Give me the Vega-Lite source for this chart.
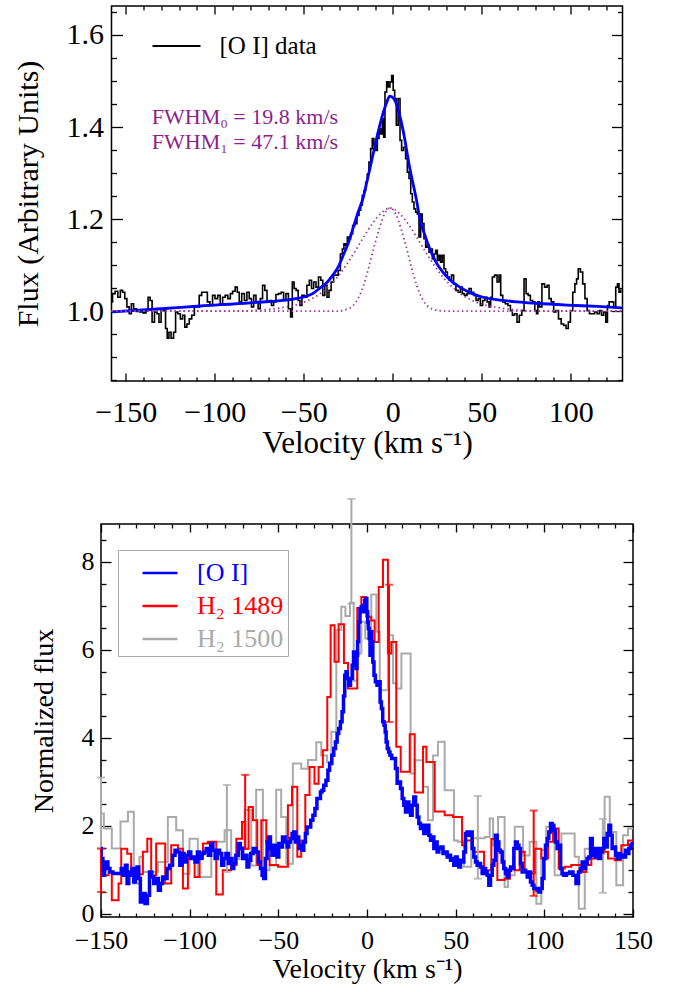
{
"$schema":"https://vega.github.io/schema/vega-lite/v6.json",
"background":"white",
"padding":{"left":12,"top":4,"right":10,"bottom":4},
"config":{"font":"Liberation Serif","view":{"stroke":"black","strokeWidth":1.5},
"axis":{"grid":false,"domain":false,"tickColor":"black","tickWidth":1.3,"labelColor":"black","titleColor":"black","labelFont":"Liberation Serif","titleFont":"Liberation Serif","titleFontWeight":"normal","labelFlush":false,"labelOverlap":false,"labelBound":false},
"legend":{"labelFont":"Liberation Serif"},
"text":{"font":"Liberation Serif"}},
"datasets":{
"oi":[{"v":-158.1,"f":1.020},{"v":-156.7,"f":1.038},{"v":-155.2,"f":1.043},{"v":-153.7,"f":1.030},{"v":-152.4,"f":1.045},{"v":-151.1,"f":1.041},{"v":-150.0,"f":1.027},{"v":-148.7,"f":1.009},{"v":-147.4,"f":0.994},{"v":-146.3,"f":1.016},{"v":-144.9,"f":1.005},{"v":-143.1,"f":0.999},{"v":-141.2,"f":0.998},{"v":-139.3,"f":0.996},{"v":-138.0,"f":1.001},{"v":-136.9,"f":1.030},{"v":-135.8,"f":1.023},{"v":-134.6,"f":0.976},{"v":-133.1,"f":0.998},{"v":-131.8,"f":0.994},{"v":-130.9,"f":0.976},{"v":-129.4,"f":1.005},{"v":-128.1,"f":1.001},{"v":-127.2,"f":0.962},{"v":-126.2,"f":0.941},{"v":-125.3,"f":0.954},{"v":-123.8,"f":0.941},{"v":-122.5,"f":0.954},{"v":-121.5,"f":0.998},{"v":-120.0,"f":0.994},{"v":-118.7,"f":0.983},{"v":-117.4,"f":0.991},{"v":-116.3,"f":0.965},{"v":-115.0,"f":0.972},{"v":-113.7,"f":0.983},{"v":-112.2,"f":0.991},{"v":-110.7,"f":1.009},{"v":-109.4,"f":1.009},{"v":-108.1,"f":1.034},{"v":-106.6,"f":1.041},{"v":-104.7,"f":1.041},{"v":-103.6,"f":1.020},{"v":-101.9,"f":1.012},{"v":-100.6,"f":1.034},{"v":-99.1,"f":1.027},{"v":-97.6,"f":1.034},{"v":-96.3,"f":1.016},{"v":-94.9,"f":1.030},{"v":-93.4,"f":1.034},{"v":-91.9,"f":1.027},{"v":-90.6,"f":1.038},{"v":-89.3,"f":1.043},{"v":-87.8,"f":1.052},{"v":-86.9,"f":1.041},{"v":-85.6,"f":1.020},{"v":-84.1,"f":1.038},{"v":-82.6,"f":1.023},{"v":-81.3,"f":1.041},{"v":-80.0,"f":1.027},{"v":-78.8,"f":1.009},{"v":-77.5,"f":1.034},{"v":-76.2,"f":1.020},{"v":-75.1,"f":1.005},{"v":-73.8,"f":1.027},{"v":-72.5,"f":1.056},{"v":-71.3,"f":1.045},{"v":-70.0,"f":1.020},{"v":-68.7,"f":1.023},{"v":-67.6,"f":1.012},{"v":-66.3,"f":1.020},{"v":-65.0,"f":1.036},{"v":-63.5,"f":1.038},{"v":-62.0,"f":1.041},{"v":-60.7,"f":1.023},{"v":-59.4,"f":1.038},{"v":-57.9,"f":1.005},{"v":-56.9,"f":0.987},{"v":-56.0,"f":1.063},{"v":-54.9,"f":1.049},{"v":-53.7,"f":1.045},{"v":-52.6,"f":1.023},{"v":-51.7,"f":1.012},{"v":-50.4,"f":1.034},{"v":-48.9,"f":1.030},{"v":-47.6,"f":1.056},{"v":-46.2,"f":1.067},{"v":-45.1,"f":1.049},{"v":-43.8,"f":1.063},{"v":-42.5,"f":1.052},{"v":-41.0,"f":1.074},{"v":-39.9,"f":1.067},{"v":-38.8,"f":1.034},{"v":-37.6,"f":1.056},{"v":-36.3,"f":1.030},{"v":-35.4,"f":1.045},{"v":-33.9,"f":1.063},{"v":-32.6,"f":1.078},{"v":-31.3,"f":1.078},{"v":-30.1,"f":1.088},{"v":-28.8,"f":1.124},{"v":-27.9,"f":1.135},{"v":-27.0,"f":1.146},{"v":-26.0,"f":1.143},{"v":-25.1,"f":1.161},{"v":-24.2,"f":1.157},{"v":-23.2,"f":1.168},{"v":-21.9,"f":1.186},{"v":-20.8,"f":1.190},{"v":-19.5,"f":1.208},{"v":-18.5,"f":1.219},{"v":-17.6,"f":1.230},{"v":-16.7,"f":1.251},{"v":-15.7,"f":1.262},{"v":-14.8,"f":1.280},{"v":-13.9,"f":1.298},{"v":-12.9,"f":1.324},{"v":-12.0,"f":1.353},{"v":-11.1,"f":1.375},{"v":-10.1,"f":1.360},{"v":-9.2,"f":1.349},{"v":-8.2,"f":1.375},{"v":-7.3,"f":1.396},{"v":-6.4,"f":1.385},{"v":-5.4,"f":1.418},{"v":-4.9,"f":1.378},{"v":-3.9,"f":1.476},{"v":-3.0,"f":1.498},{"v":-2.1,"f":1.487},{"v":-1.1,"f":1.498},{"v":-0.2,"f":1.512},{"v":0.6,"f":1.480},{"v":1.5,"f":1.462},{"v":2.4,"f":1.404},{"v":3.6,"f":1.462},{"v":4.5,"f":1.371},{"v":5.4,"f":1.349},{"v":6.7,"f":1.356},{"v":7.7,"f":1.331},{"v":8.6,"f":1.302},{"v":9.6,"f":1.288},{"v":10.5,"f":1.255},{"v":11.4,"f":1.237},{"v":12.4,"f":1.222},{"v":13.3,"f":1.215},{"v":14.2,"f":1.211},{"v":15.2,"f":1.161},{"v":16.1,"f":1.211},{"v":17.0,"f":1.190},{"v":18.0,"f":1.157},{"v":18.9,"f":1.139},{"v":19.9,"f":1.143},{"v":20.8,"f":1.128},{"v":21.7,"f":1.135},{"v":22.7,"f":1.114},{"v":23.6,"f":1.124},{"v":24.5,"f":1.132},{"v":25.5,"f":1.110},{"v":26.4,"f":1.121},{"v":27.3,"f":1.106},{"v":28.3,"f":1.121},{"v":29.2,"f":1.092},{"v":30.2,"f":1.085},{"v":31.1,"f":1.074},{"v":32.4,"f":1.067},{"v":33.5,"f":1.078},{"v":34.8,"f":1.059},{"v":36.1,"f":1.045},{"v":37.3,"f":1.041},{"v":38.6,"f":1.052},{"v":39.5,"f":1.038},{"v":41.0,"f":1.034},{"v":42.3,"f":1.038},{"v":43.3,"f":1.049},{"v":44.8,"f":1.041},{"v":46.1,"f":1.034},{"v":47.4,"f":1.023},{"v":48.5,"f":1.027},{"v":49.8,"f":1.012},{"v":51.1,"f":1.023},{"v":52.3,"f":1.030},{"v":53.6,"f":1.020},{"v":54.5,"f":1.009},{"v":55.4,"f":1.030},{"v":56.4,"f":1.074},{"v":57.9,"f":1.078},{"v":59.2,"f":1.063},{"v":60.1,"f":1.078},{"v":61.1,"f":1.034},{"v":62.4,"f":1.020},{"v":63.9,"f":1.016},{"v":65.4,"f":1.012},{"v":66.7,"f":1.001},{"v":67.6,"f":0.991},{"v":69.1,"f":0.994},{"v":70.4,"f":0.976},{"v":71.7,"f":0.991},{"v":73.2,"f":1.001},{"v":74.2,"f":1.070},{"v":75.5,"f":1.038},{"v":76.6,"f":1.034},{"v":77.9,"f":1.023},{"v":79.2,"f":1.020},{"v":80.3,"f":1.001},{"v":81.1,"f":0.994},{"v":81.8,"f":1.020},{"v":83.0,"f":1.009},{"v":84.5,"f":1.059},{"v":86.0,"f":1.052},{"v":87.3,"f":1.056},{"v":88.2,"f":1.027},{"v":89.7,"f":1.020},{"v":91.0,"f":0.998},{"v":92.3,"f":1.001},{"v":93.8,"f":0.983},{"v":95.3,"f":0.972},{"v":96.6,"f":0.969},{"v":98.0,"f":0.962},{"v":99.1,"f":0.976},{"v":100.4,"f":1.001},{"v":101.7,"f":1.041},{"v":102.8,"f":1.059},{"v":103.6,"f":1.070},{"v":104.7,"f":1.092},{"v":106.0,"f":1.085},{"v":107.3,"f":1.059},{"v":108.5,"f":1.027},{"v":109.8,"f":1.001},{"v":111.1,"f":0.994},{"v":112.6,"f":0.994},{"v":114.1,"f":0.998},{"v":115.4,"f":0.994},{"v":116.7,"f":1.001},{"v":117.8,"f":0.991},{"v":119.1,"f":0.998},{"v":120.1,"f":0.976},{"v":121.0,"f":1.012},{"v":122.0,"f":1.020},{"v":123.4,"f":1.020},{"v":124.7,"f":1.009},{"v":125.7,"f":1.052},{"v":126.6,"f":1.059},{"v":127.5,"f":1.041},{"v":128.5,"f":1.045}],
"fit":[{"v":-158,"f":0.998},{"v":-130,"f":1.005},{"v":-108,"f":1.011},{"v":-80,"f":1.018},{"v":-56,"f":1.026},{"v":-50.6,"f":1.030},{"v":-45,"f":1.038},{"v":-41,"f":1.05},{"v":-37,"f":1.062},{"v":-33.7,"f":1.078},{"v":-30.5,"f":1.097},{"v":-28,"f":1.12},{"v":-25,"f":1.148},{"v":-22.5,"f":1.178},{"v":-19.5,"f":1.215},{"v":-16.9,"f":1.243},{"v":-14.6,"f":1.28},{"v":-11.2,"f":1.339},{"v":-7.3,"f":1.404},{"v":-3.4,"f":1.454},{"v":-1.7,"f":1.467},{"v":0.5,"f":1.462},{"v":2.2,"f":1.448},{"v":5.6,"f":1.396},{"v":9.6,"f":1.309},{"v":13.5,"f":1.237},{"v":15.2,"f":1.20},{"v":18,"f":1.165},{"v":20.8,"f":1.135},{"v":24,"f":1.108},{"v":28,"f":1.085},{"v":32,"f":1.068},{"v":37.6,"f":1.052},{"v":44,"f":1.039},{"v":50.6,"f":1.030},{"v":60,"f":1.024},{"v":69.7,"f":1.02},{"v":80,"f":1.017},{"v":97.8,"f":1.013},{"v":115,"f":1.010},{"v":128.7,"f":1.007}],
"narrow":[{"v":-158,"f":1.0},{"v":-31.5,"f":1.0},{"v":-26.5,"f":1.003},{"v":-22.5,"f":1.011},{"v":-19.5,"f":1.027},{"v":-16.5,"f":1.055},{"v":-13.5,"f":1.095},{"v":-10.5,"f":1.14},{"v":-7.5,"f":1.18},{"v":-4.5,"f":1.212},{"v":-1.5,"f":1.224},{"v":1.5,"f":1.212},{"v":4.5,"f":1.18},{"v":7.5,"f":1.14},{"v":10.5,"f":1.095},{"v":13.5,"f":1.055},{"v":16.5,"f":1.027},{"v":19.5,"f":1.011},{"v":23.5,"f":1.003},{"v":28.5,"f":1.0},{"v":129,"f":1.0}],
"broad":[{"v":-158,"f":1.0},{"v":-86.5,"f":1.0},{"v":-71.5,"f":1.003},{"v":-61.5,"f":1.008},{"v":-51.5,"f":1.017},{"v":-46.5,"f":1.025},{"v":-41.5,"f":1.036},{"v":-36.5,"f":1.052},{"v":-31.5,"f":1.072},{"v":-26.5,"f":1.098},{"v":-21.5,"f":1.128},{"v":-16.5,"f":1.16},{"v":-11.5,"f":1.19},{"v":-6.5,"f":1.213},{"v":-1.5,"f":1.224},{"v":3.5,"f":1.213},{"v":8.5,"f":1.19},{"v":13.5,"f":1.16},{"v":18.5,"f":1.128},{"v":23.5,"f":1.098},{"v":28.5,"f":1.072},{"v":33.5,"f":1.052},{"v":38.5,"f":1.036},{"v":43.5,"f":1.025},{"v":48.5,"f":1.017},{"v":58.5,"f":1.008},{"v":68.5,"f":1.003},{"v":83.5,"f":1.0},{"v":129,"f":1.0}],
"notes":[{"v":-135.4,"f":1.422,"t":"FWHM₀ = 19.8 km/s"},{"v":-135.4,"f":1.367,"t":"FWHM₁ = 47.1 km/s"}],
"blue":[{"v":-150.3,"n":1.485},{"v":-149.5,"n":1.257},{"v":-148.4,"n":0.879},{"v":-147.6,"n":1.03},{"v":-146.5,"n":1.182},{"v":-145.7,"n":1.03},{"v":-144.2,"n":0.954},{"v":-142.4,"n":0.916},{"v":-139.5,"n":0.916},{"v":-137.7,"n":1.03},{"v":-136.7,"n":0.879},{"v":-135.8,"n":1.106},{"v":-134.8,"n":0.689},{"v":-133.9,"n":0.954},{"v":-133.0,"n":0.879},{"v":-132.0,"n":1.03},{"v":-131.1,"n":0.727},{"v":-130.1,"n":1.03},{"v":-129.2,"n":1.068},{"v":-128.3,"n":0.803},{"v":-127.3,"n":0.272},{"v":-125.8,"n":0.462},{"v":-124.5,"n":0.235},{"v":-123.2,"n":0.424},{"v":-122.1,"n":0.954},{"v":-120.7,"n":0.841},{"v":-119.8,"n":0.689},{"v":-118.3,"n":0.803},{"v":-117.0,"n":0.538},{"v":-116.0,"n":0.689},{"v":-114.5,"n":0.841},{"v":-113.2,"n":0.803},{"v":-112.3,"n":1.03},{"v":-110.4,"n":1.106},{"v":-108.9,"n":1.333},{"v":-107.6,"n":1.447},{"v":-106.3,"n":1.409},{"v":-104.8,"n":1.106},{"v":-103.8,"n":1.371},{"v":-102.5,"n":1.182},{"v":-101.0,"n":1.333},{"v":-100.1,"n":1.409},{"v":-98.7,"n":1.257},{"v":-97.6,"n":1.295},{"v":-96.3,"n":1.182},{"v":-95.0,"n":1.409},{"v":-93.9,"n":1.257},{"v":-92.5,"n":1.371},{"v":-91.2,"n":1.409},{"v":-90.1,"n":1.485},{"v":-88.8,"n":1.333},{"v":-87.5,"n":1.598},{"v":-86.3,"n":1.447},{"v":-85.0,"n":1.257},{"v":-83.7,"n":1.447},{"v":-82.6,"n":1.371},{"v":-81.3,"n":1.106},{"v":-80.3,"n":1.257},{"v":-78.8,"n":1.371},{"v":-77.5,"n":1.144},{"v":-76.6,"n":1.257},{"v":-75.6,"n":1.03},{"v":-74.7,"n":1.144},{"v":-73.2,"n":1.333},{"v":-71.9,"n":1.598},{"v":-70.9,"n":1.485},{"v":-69.4,"n":1.257},{"v":-68.1,"n":1.333},{"v":-67.2,"n":1.068},{"v":-66.2,"n":1.22},{"v":-64.9,"n":1.371},{"v":-63.4,"n":1.485},{"v":-61.9,"n":1.409},{"v":-60.6,"n":1.182},{"v":-59.6,"n":1.03},{"v":-58.7,"n":0.879},{"v":-57.8,"n":0.803},{"v":-56.8,"n":1.257},{"v":-55.9,"n":1.636},{"v":-54.9,"n":1.75},{"v":-54.0,"n":1.485},{"v":-53.1,"n":1.333},{"v":-52.1,"n":1.56},{"v":-51.2,"n":1.485},{"v":-50.2,"n":1.295},{"v":-49.3,"n":1.598},{"v":-48.4,"n":1.522},{"v":-46.9,"n":1.75},{"v":-45.5,"n":1.636},{"v":-44.6,"n":1.522},{"v":-43.7,"n":1.636},{"v":-42.7,"n":1.712},{"v":-41.8,"n":1.826},{"v":-40.8,"n":1.863},{"v":-39.9,"n":1.636},{"v":-39.0,"n":1.75},{"v":-38.0,"n":1.485},{"v":-37.1,"n":1.56},{"v":-36.1,"n":1.447},{"v":-35.2,"n":1.636},{"v":-34.3,"n":1.826},{"v":-33.3,"n":1.977},{"v":-32.4,"n":1.977},{"v":-31.1,"n":2.128},{"v":-29.9,"n":2.242},{"v":-28.8,"n":2.394},{"v":-27.7,"n":2.621},{"v":-26.7,"n":2.621},{"v":-25.8,"n":2.773},{"v":-24.9,"n":2.81},{"v":-23.9,"n":2.924},{"v":-22.4,"n":3.038},{"v":-21.7,"n":3.265},{"v":-20.5,"n":3.416},{"v":-19.2,"n":3.606},{"v":-18.3,"n":3.757},{"v":-17.3,"n":3.909},{"v":-16.4,"n":4.098},{"v":-15.5,"n":4.212},{"v":-14.5,"n":4.364},{"v":-13.6,"n":4.591},{"v":-12.9,"n":4.95},{"v":-12.2,"n":5.424},{"v":-11.5,"n":5.5},{"v":-10.7,"n":5.348},{"v":-9.8,"n":5.197},{"v":-8.8,"n":5.348},{"v":-7.9,"n":5.651},{"v":-7.3,"n":5.954},{"v":-6.6,"n":5.803},{"v":-5.8,"n":5.576},{"v":-5.5,"n":5.879},{"v":-5.1,"n":6.182},{"v":-4.3,"n":6.636},{"v":-3.6,"n":6.939},{"v":-2.8,"n":6.977},{"v":-2.3,"n":6.864},{"v":-1.7,"n":7.015},{"v":-0.95,"n":7.129},{"v":-0.38,"n":7.167},{"v":0.18,"n":6.864},{"v":0.56,"n":6.636},{"v":0.94,"n":6.485},{"v":1.5,"n":6.258},{"v":1.9,"n":5.879},{"v":2.44,"n":6.409},{"v":3.0,"n":6.182},{"v":3.57,"n":5.727},{"v":4.3,"n":5.424},{"v":5.1,"n":5.273},{"v":6.2,"n":5.197},{"v":7.1,"n":5.273},{"v":7.7,"n":4.818},{"v":8.5,"n":4.667},{"v":9.2,"n":4.364},{"v":10.0,"n":4.288},{"v":10.5,"n":4.136},{"v":11.1,"n":3.909},{"v":11.8,"n":3.757},{"v":12.6,"n":3.682},{"v":13.3,"n":3.606},{"v":14.5,"n":3.53},{"v":15.6,"n":3.53},{"v":16.5,"n":3.303},{"v":17.5,"n":2.97},{"v":18.4,"n":3.0},{"v":19.4,"n":2.848},{"v":20.3,"n":2.621},{"v":21.2,"n":2.47},{"v":22.2,"n":2.318},{"v":23.1,"n":2.545},{"v":24.1,"n":2.356},{"v":25.0,"n":2.242},{"v":25.9,"n":2.47},{"v":26.9,"n":2.659},{"v":27.8,"n":2.47},{"v":28.8,"n":2.204},{"v":29.7,"n":2.053},{"v":30.6,"n":1.939},{"v":31.6,"n":2.015},{"v":32.5,"n":1.826},{"v":33.5,"n":1.901},{"v":34.4,"n":2.015},{"v":35.3,"n":1.788},{"v":36.3,"n":1.674},{"v":37.2,"n":1.75},{"v":38.2,"n":1.485},{"v":39.1,"n":1.636},{"v":40.0,"n":1.409},{"v":41.0,"n":1.485},{"v":42.3,"n":1.522},{"v":43.4,"n":1.371},{"v":44.7,"n":1.409},{"v":45.7,"n":1.295},{"v":46.6,"n":1.333},{"v":47.6,"n":1.22},{"v":48.5,"n":1.257},{"v":49.4,"n":1.106},{"v":50.4,"n":1.295},{"v":51.3,"n":1.182},{"v":52.3,"n":1.068},{"v":53.2,"n":1.22},{"v":54.1,"n":1.182},{"v":55.1,"n":1.409},{"v":56.0,"n":1.826},{"v":57.0,"n":1.863},{"v":57.9,"n":1.788},{"v":58.8,"n":1.863},{"v":59.8,"n":1.485},{"v":60.7,"n":1.295},{"v":61.7,"n":1.182},{"v":62.6,"n":1.106},{"v":63.5,"n":1.144},{"v":64.5,"n":1.068},{"v":65.4,"n":0.916},{"v":66.4,"n":1.03},{"v":67.3,"n":0.954},{"v":68.2,"n":0.879},{"v":69.2,"n":0.651},{"v":70.1,"n":0.879},{"v":71.1,"n":1.106},{"v":72.0,"n":1.22},{"v":72.9,"n":1.788},{"v":73.9,"n":1.636},{"v":74.8,"n":1.447},{"v":75.8,"n":1.409},{"v":76.7,"n":1.182},{"v":77.6,"n":1.03},{"v":78.6,"n":0.916},{"v":79.5,"n":0.841},{"v":80.5,"n":0.992},{"v":81.4,"n":1.068},{"v":82.3,"n":1.03},{"v":83.3,"n":1.485},{"v":84.2,"n":1.636},{"v":85.2,"n":1.56},{"v":86.1,"n":1.485},{"v":87.0,"n":1.144},{"v":88.0,"n":0.954},{"v":88.9,"n":0.992},{"v":89.9,"n":0.954},{"v":90.8,"n":0.841},{"v":91.7,"n":0.954},{"v":92.7,"n":0.727},{"v":93.6,"n":0.651},{"v":94.6,"n":0.576},{"v":95.5,"n":0.576},{"v":96.4,"n":0.538},{"v":97.4,"n":0.5},{"v":98.3,"n":0.576},{"v":99.3,"n":0.803},{"v":100.2,"n":1.257},{"v":101.1,"n":1.56},{"v":102.1,"n":1.712},{"v":103.0,"n":1.863},{"v":104.0,"n":2.053},{"v":104.9,"n":2.015},{"v":105.8,"n":1.901},{"v":106.8,"n":1.636},{"v":107.7,"n":1.485},{"v":108.7,"n":1.56},{"v":109.6,"n":1.03},{"v":110.5,"n":0.916},{"v":111.5,"n":0.879},{"v":113.4,"n":0.916},{"v":115.2,"n":0.954},{"v":117.1,"n":0.879},{"v":118.6,"n":0.689},{"v":119.9,"n":0.954},{"v":120.9,"n":1.03},{"v":121.8,"n":1.182},{"v":122.8,"n":1.03},{"v":123.7,"n":1.144},{"v":124.6,"n":1.257},{"v":125.6,"n":1.295},{"v":126.5,"n":1.712},{"v":127.5,"n":1.485},{"v":128.4,"n":1.333},{"v":129.3,"n":1.295},{"v":130.3,"n":1.485},{"v":131.2,"n":1.257},{"v":132.2,"n":1.409},{"v":133.1,"n":1.485},{"v":134.0,"n":1.712},{"v":135.0,"n":1.522},{"v":135.9,"n":1.826},{"v":136.9,"n":2.015},{"v":137.8,"n":1.788},{"v":138.7,"n":1.485},{"v":139.7,"n":1.522},{"v":140.6,"n":1.333},{"v":141.6,"n":1.257},{"v":142.5,"n":1.371},{"v":143.4,"n":1.295},{"v":144.4,"n":1.333},{"v":145.3,"n":1.295},{"v":146.3,"n":1.447},{"v":147.2,"n":1.371},{"v":148.1,"n":1.485},{"v":149.1,"n":1.56},{"v":150,"n":1.6}],
"red":[{"v":-150.3,"n":0.95},{"v":-148.4,"n":0.88},{"v":-145.7,"n":0.95},{"v":-143.9,"n":0.31},{"v":-140.1,"n":0.69},{"v":-138.6,"n":1.48},{"v":-135.2,"n":1.37},{"v":-133.0,"n":0.9},{"v":-126.4,"n":1.41},{"v":-123.9,"n":1.71},{"v":-121.7,"n":0.88},{"v":-118.9,"n":1.6},{"v":-113.8,"n":0.69},{"v":-110.4,"n":1.56},{"v":-106.6,"n":1.48},{"v":-103.8,"n":0.58},{"v":-101.0,"n":1.26},{"v":-97.2,"n":0.84},{"v":-94.4,"n":1.26},{"v":-92.5,"n":1.6},{"v":-89.7,"n":1.64},{"v":-85.0,"n":0.44},{"v":-81.3,"n":0.99},{"v":-76.6,"n":1.11},{"v":-73.7,"n":1.71},{"v":-70.5,"n":2.09},{"v":-68.7,"n":1.48},{"v":-66.8,"n":2.43},{"v":-64.3,"n":2.13},{"v":-61.9,"n":1.11},{"v":-59.6,"n":2.13},{"v":-56.8,"n":1.64},{"v":-54.9,"n":1.11},{"v":-50.2,"n":1.07},{"v":-44.6,"n":2.47},{"v":-42.3,"n":2.89},{"v":-39.3,"n":1.3},{"v":-37.1,"n":1.67},{"v":-34.8,"n":2.7},{"v":-32.4,"n":3.34},{"v":-29.6,"n":2.96},{"v":-27.3,"n":3.34},{"v":-24.9,"n":3.72},{"v":-22.4,"n":4.93},{"v":-20.5,"n":6.56},{"v":-18.3,"n":5.73},{"v":-16.0,"n":6.58},{"v":-13.0,"n":5.7},{"v":-10.7,"n":5.12},{"v":-5.5,"n":6.95},{"v":-3.2,"n":7.2},{"v":-0.4,"n":6.75},{"v":2.4,"n":6.67},{"v":4.3,"n":6.18},{"v":6.6,"n":7.43},{"v":9.0,"n":8.05},{"v":11.8,"n":5.92},{"v":13.7,"n":6.18},{"v":16.5,"n":3.8},{"v":19.0,"n":3.23},{"v":24.1,"n":4.08},{"v":26.9,"n":2.76},{"v":31.6,"n":3.8},{"v":33.5,"n":3.45},{"v":38.2,"n":2.33},{"v":43.8,"n":2.24},{"v":48.5,"n":2.2},{"v":53.6,"n":1.56},{"v":55.1,"n":1.67},{"v":59.8,"n":1.41},{"v":66.0,"n":0.99},{"v":70.1,"n":1.7},{"v":73.5,"n":0.77},{"v":77.6,"n":0.8},{"v":80.5,"n":1.03},{"v":83.3,"n":0.99},{"v":86.1,"n":1.41},{"v":88.9,"n":0.95},{"v":92.7,"n":0.92},{"v":94.6,"n":1.48},{"v":98.3,"n":1.26},{"v":102.1,"n":1.64},{"v":104.9,"n":1.94},{"v":108.1,"n":1.03},{"v":111.5,"n":1.07},{"v":115.2,"n":1.11},{"v":121.8,"n":0.95},{"v":123.7,"n":1.11},{"v":126.5,"n":1.26},{"v":132.2,"n":1.41},{"v":135.9,"n":1.26},{"v":139.7,"n":1.22},{"v":143.4,"n":1.56},{"v":147.2,"n":1.67},{"v":150,"n":1.67}],
"gray":[{"v":-150.3,"n":2.28},{"v":-148.4,"n":1.94},{"v":-143.9,"n":1.485},{"v":-139.0,"n":2.1},{"v":-134.8,"n":2.32},{"v":-131.5,"n":0.69},{"v":-128.3,"n":1.3},{"v":-126.4,"n":0.95},{"v":-117.9,"n":1.18},{"v":-112.3,"n":2.2},{"v":-107.6,"n":1.9},{"v":-103.8,"n":0.91},{"v":-100.1,"n":1.71},{"v":-95.4,"n":0.84},{"v":-87.8,"n":1.64},{"v":-80.3,"n":1.9},{"v":-76.6,"n":1.25},{"v":-71.9,"n":1.52},{"v":-69.0,"n":2.36},{"v":-65.3,"n":1.1},{"v":-62.5,"n":2.82},{"v":-58.7,"n":0.99},{"v":-54.9,"n":1.1},{"v":-51.2,"n":2.82},{"v":-48.4,"n":2.2},{"v":-45.5,"n":1.14},{"v":-41.8,"n":3.42},{"v":-37.1,"n":3.3},{"v":-33.3,"n":3.5},{"v":-28.6,"n":3.9},{"v":-25.8,"n":3.6},{"v":-22.5,"n":3.45},{"v":-20.1,"n":4.14},{"v":-17.3,"n":6.45},{"v":-14.5,"n":6.98},{"v":-12.2,"n":6.77},{"v":-9.6,"n":7.07},{"v":-7.5,"n":5.3},{"v":-5.5,"n":5.92},{"v":-3.2,"n":6.64},{"v":-1.0,"n":6.26},{"v":2.4,"n":7.26},{"v":5.3,"n":6.41},{"v":7.2,"n":5.08},{"v":11.8,"n":6.33},{"v":14.7,"n":5.24},{"v":16.5,"n":5.12},{"v":19.4,"n":5.92},{"v":24.6,"n":3.19},{"v":26.9,"n":3.49},{"v":31.6,"n":2.89},{"v":34.4,"n":2.13},{"v":37.2,"n":3.6},{"v":40.0,"n":3.91},{"v":43.8,"n":2.81},{"v":49.1,"n":1.67},{"v":51.3,"n":1.64},{"v":54.7,"n":1.07},{"v":58.8,"n":1.72},{"v":66.4,"n":1.75},{"v":69.2,"n":2.17},{"v":71.1,"n":1.56},{"v":73.9,"n":2.2},{"v":77.6,"n":0.61},{"v":79.5,"n":0.88},{"v":83.3,"n":1.98},{"v":88.0,"n":1.33},{"v":91.7,"n":1.64},{"v":95.5,"n":0.23},{"v":98.3,"n":1.45},{"v":101.1,"n":1.98},{"v":105.8,"n":0.88},{"v":109.6,"n":1.83},{"v":117.1,"n":1.3},{"v":119.4,"n":0.12},{"v":122.8,"n":1.48},{"v":126.5,"n":1.26},{"v":130.3,"n":1.37},{"v":134.0,"n":2.66},{"v":136.9,"n":1.86},{"v":140.6,"n":0.65},{"v":144.4,"n":1.79},{"v":147.2,"n":1.94},{"v":150,"n":1.94}],
"errs":[{"v":-150,"lo":0.5,"hi":1.48,"s":"H₂ 1489"},{"v":-68.7,"lo":1.48,"hi":3.16,"s":"H₂ 1489"},{"v":12.4,"lo":4.36,"hi":7.48,"s":"H₂ 1489"},{"v":94.0,"lo":0.41,"hi":2.35,"s":"H₂ 1489"},{"v":-150,"lo":1.5,"hi":3.1,"s":"H₂ 1500"},{"v":-79,"lo":0.95,"hi":2.93,"s":"H₂ 1500"},{"v":-8.8,"lo":7.05,"hi":9.43,"s":"H₂ 1500"},{"v":62.5,"lo":0.8,"hi":2.68,"s":"H₂ 1500"},{"v":133,"lo":0.48,"hi":2.16,"s":"H₂ 1500"}]
},
"spacing":143,
"bounds":"flush",
"center":true,
"resolve":{"scale":{"color":"independent"},"legend":{"color":"independent"}},
"vconcat":[
{"width":511,"height":375,
"resolve":{"axis":{"x":"independent","y":"independent"}},
"layer":[
{"data":{"name":"oi"},"transform":[{"calculate":"'[O I] data'","as":"s"}],
"mark":{"type":"line","interpolate":"step","strokeWidth":1.6},
"encoding":{
"x":{"field":"v","type":"quantitative","scale":{"domain":[-158,129],"nice":false,"zero":false},
"axis":{"orient":"bottom","values":[-150,-100,-50,0,50,100],"tickSize":-8,"labelPadding":24,"labelFontSize":30,"title":"Velocity (km s⁻¹)","titleFontSize":31,"titlePadding":1}},
"y":{"field":"f","type":"quantitative","scale":{"domain":[0.848,1.663],"nice":false,"zero":false},
"axis":{"orient":"left","values":[1.0,1.2,1.4,1.6],"format":".1f","tickSize":-11,"labelPadding":19,"labelFontSize":30,"title":"Flux (Arbitrary Units)","titleFontSize":30,"titlePadding":23}},
"color":{"field":"s","type":"nominal","scale":{"domain":["[O I] data"],"range":["black"]},
"legend":{"orient":"none","legendX":40,"legendY":15,"title":null,"padding":0,"symbolType":"stroke","symbolSize":2304,"symbolStrokeWidth":2,"labelFontSize":25,"labelOffset":18,"labelColor":"black"}}}},
{"data":{"name":"fit"},"mark":{"type":"line","interpolate":"monotone","strokeWidth":2.8,"color":"#0000ff"},
"encoding":{
"x":{"field":"v","type":"quantitative","scale":{"domain":[-158,129],"nice":false,"zero":false},"axis":{"orient":"bottom","values":[-140,-130,-120,-110,-90,-80,-70,-60,-40,-30,-20,-10,10,20,30,40,60,70,80,90,110,120],"tickSize":-4,"labels":false,"title":null}},
"y":{"field":"f","type":"quantitative","scale":{"domain":[0.848,1.663],"nice":false,"zero":false},"axis":{"orient":"left","values":[0.85,0.9,0.95,1.05,1.1,1.15,1.25,1.3,1.35,1.45,1.5,1.55,1.65],"tickSize":-5,"labels":false,"title":null}}}},
{"data":{"name":"narrow"},"mark":{"type":"line","interpolate":"monotone","strokeWidth":1.8,"strokeDash":[1.5,3],"color":"#a03aa0"},
"encoding":{
"x":{"field":"v","type":"quantitative","scale":{"domain":[-158,129],"nice":false,"zero":false},"axis":{"orient":"top","values":[-150,-100,-50,0,50,100],"tickSize":-8,"labels":false,"title":null}},
"y":{"field":"f","type":"quantitative","scale":{"domain":[0.848,1.663],"nice":false,"zero":false},"axis":{"orient":"right","values":[1.0,1.2,1.4,1.6],"tickSize":-11,"labels":false,"title":null}}}},
{"data":{"name":"broad"},"mark":{"type":"line","interpolate":"monotone","strokeWidth":1.8,"strokeDash":[1.5,3],"color":"#a03aa0"},
"encoding":{
"x":{"field":"v","type":"quantitative","scale":{"domain":[-158,129],"nice":false,"zero":false},"axis":{"orient":"top","values":[-140,-130,-120,-110,-90,-80,-70,-60,-40,-30,-20,-10,10,20,30,40,60,70,80,90,110,120],"tickSize":-4,"labels":false,"title":null}},
"y":{"field":"f","type":"quantitative","scale":{"domain":[0.848,1.663],"nice":false,"zero":false},"axis":{"orient":"right","values":[0.85,0.9,0.95,1.05,1.1,1.15,1.25,1.3,1.35,1.45,1.5,1.55,1.65],"tickSize":-5,"labels":false,"title":null}}}},
{"data":{"name":"notes"},"mark":{"type":"text","align":"left","baseline":"middle","fontSize":22,"color":"#8e1f8e"},
"encoding":{
"x":{"field":"v","type":"quantitative","scale":{"domain":[-158,129],"nice":false,"zero":false},"axis":null},
"y":{"field":"f","type":"quantitative","scale":{"domain":[0.848,1.663],"nice":false,"zero":false},"axis":null},
"text":{"field":"t"}}}
]},
{"width":532,"height":393,
"resolve":{"axis":{"x":"independent","y":"independent"}},
"layer":[
{"data":{"name":"gray"},"transform":[{"calculate":"'H₂ 1500'","as":"s"}],
"mark":{"type":"line","interpolate":"step-after","strokeWidth":2,"clip":true},
"encoding":{
"x":{"field":"v","type":"quantitative","scale":{"domain":[-150,150],"nice":false,"zero":false},
"axis":{"orient":"bottom","values":[-150,-100,-50,0,50,100,150],"tickSize":-8,"labelPadding":18,"labelFontSize":26,"title":"Velocity (km s⁻¹)","titleFontSize":28,"titlePadding":2}},
"y":{"field":"n","type":"quantitative","scale":{"domain":[-0.07,8.86],"nice":false,"zero":false},
"axis":{"orient":"left","values":[0,2,4,6,8],"tickSize":-10,"labelPadding":17,"labelFontSize":26,"title":"Normalized flux","titleFontSize":28,"titlePadding":23}},
"color":{"field":"s","type":"nominal","scale":{"domain":["[O I]","H₂ 1489","H₂ 1500"],"range":["#0000ff","#ff0000","#aaaaaa"]},
"legend":{"orient":"none","legendX":17,"legendY":26,"title":null,"padding":4,"strokeColor":"#aaaaaa","fillColor":"white","symbolType":"M-1,0L1,0","symbolSize":1225,"symbolStrokeWidth":2.5,"symbolOffset":19,"labelFontSize":26,"labelOffset":18,"rowPadding":1,
"encode":{"labels":{"update":{"fill":{"signal":"datum.value === '[O I]' ? '#0000ff' : (datum.value === 'H₂ 1489' ? '#ff0000' : '#aaaaaa')"}}}}}}}},
{"data":{"name":"red"},"transform":[{"calculate":"'H₂ 1489'","as":"s"}],
"mark":{"type":"line","interpolate":"step-after","strokeWidth":2,"clip":true},
"encoding":{
"x":{"field":"v","type":"quantitative","scale":{"domain":[-150,150],"nice":false,"zero":false},"axis":{"orient":"bottom","values":[-140,-130,-120,-110,-90,-80,-70,-60,-40,-30,-20,-10,10,20,30,40,60,70,80,90,110,120,130,140],"tickSize":-4,"labels":false,"title":null}},
"y":{"field":"n","type":"quantitative","scale":{"domain":[-0.07,8.86],"nice":false,"zero":false},"axis":{"orient":"left","values":[0.5,1,1.5,2.5,3,3.5,4.5,5,5.5,6.5,7,7.5,8.5],"tickSize":-5,"labels":false,"title":null}},
"color":{"field":"s","type":"nominal"}}},
{"data":{"name":"errs"},"mark":{"type":"rule","strokeWidth":2},
"encoding":{
"x":{"field":"v","type":"quantitative","scale":{"domain":[-150,150],"nice":false,"zero":false},"axis":{"orient":"top","values":[-140,-130,-120,-110,-90,-80,-70,-60,-40,-30,-20,-10,10,20,30,40,60,70,80,90,110,120,130,140],"tickSize":-4,"labels":false,"title":null}},
"y":{"field":"lo","type":"quantitative","scale":{"domain":[-0.07,8.86],"nice":false,"zero":false},"axis":{"orient":"right","values":[0.5,1,1.5,2.5,3,3.5,4.5,5,5.5,6.5,7,7.5,8.5],"tickSize":-5,"labels":false,"title":null}},
"y2":{"field":"hi"},
"color":{"field":"s","type":"nominal"}}},
{"data":{"name":"errs"},"mark":{"type":"tick","orient":"horizontal","size":8,"thickness":2},
"encoding":{
"x":{"field":"v","type":"quantitative","scale":{"domain":[-150,150],"nice":false,"zero":false},"axis":null},
"y":{"field":"lo","type":"quantitative","scale":{"domain":[-0.07,8.86],"nice":false,"zero":false},"axis":null},
"color":{"field":"s","type":"nominal"}}},
{"data":{"name":"errs"},"mark":{"type":"tick","orient":"horizontal","size":8,"thickness":2},
"encoding":{
"x":{"field":"v","type":"quantitative","scale":{"domain":[-150,150],"nice":false,"zero":false},"axis":null},
"y":{"field":"hi","type":"quantitative","scale":{"domain":[-0.07,8.86],"nice":false,"zero":false},"axis":null},
"color":{"field":"s","type":"nominal"}}},
{"data":{"name":"blue"},"transform":[{"calculate":"'[O I]'","as":"s"}],
"mark":{"type":"line","interpolate":"step","strokeWidth":3.5,"clip":true},
"encoding":{
"x":{"field":"v","type":"quantitative","scale":{"domain":[-150,150],"nice":false,"zero":false},"axis":{"orient":"top","values":[-150,-100,-50,0,50,100,150],"tickSize":-8,"labels":false,"title":null}},
"y":{"field":"n","type":"quantitative","scale":{"domain":[-0.07,8.86],"nice":false,"zero":false},"axis":{"orient":"right","values":[0,2,4,6,8],"tickSize":-10,"labels":false,"title":null}},
"color":{"field":"s","type":"nominal"}}}
]}
]}
